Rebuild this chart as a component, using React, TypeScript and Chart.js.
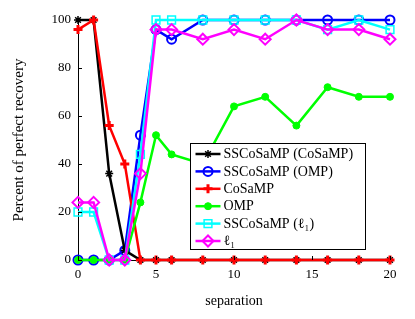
import React, { useEffect, useRef } from "react";
import { Chart, registerables } from "chart.js";
import { drawPoint } from "chart.js/helpers";

Chart.register(...registerables);

const separation = [0, 1, 2, 3, 4, 5, 6, 8, 10, 12, 14, 16, 18, 20];
const ssCosampCosamp = [100, 100, 36, 4, 0, 0, 0, 0, 0, 0, 0, 0, 0, 0];
const ssCosampOmp = [0, 0, 0, 4, 52, 96, 92, 100, 100, 100, 100, 100, 100, 100];
const cosamp = [96, 100, 56, 40, 0, 0, 0, 0, 0, 0, 0, 0, 0, 0];
const omp = [0, 0, 0, 0, 24, 52, 44, 40, 64, 68, 56, 72, 68, 68];
const ssCosampL1 = [20, 20, 0, 0, 44, 100, 100, 100, 100, 100, 100, 96, 100, 96];
const l1 = [24, 24, 0, 0, 36, 96, 96, 92, 96, 92, 100, 96, 96, 92];

const seriesLabels = [
  "SSCoSaMP (CoSaMP)",
  "SSCoSaMP (OMP)",
  "CoSaMP",
  "OMP",
  "SSCoSaMP (\u2113\u2081)",
  "\u2113\u2081",
];

const FONT = "'Liberation Serif', 'DejaVu Serif', serif";

type Style = {
  color: string;
  pointStyle: string;
  radius: number;
  pointBorder: number;
  filled: boolean;
  order: number;
};

const styles: Style[] = [
  { color: "#000000", pointStyle: "star", radius: 4, pointBorder: 1.5, filled: false, order: 4 },
  { color: "#0000ff", pointStyle: "circle", radius: 4.5, pointBorder: 2, filled: false, order: 5 },
  { color: "#ff0000", pointStyle: "cross", radius: 4.5, pointBorder: 3, filled: false, order: 3 },
  { color: "#00ff00", pointStyle: "circle", radius: 3.5, pointBorder: 1, filled: true, order: 2 },
  { color: "#00ffff", pointStyle: "rect", radius: 5.5, pointBorder: 1.5, filled: false, order: 1 },
  { color: "#ff00ff", pointStyle: "rectRot", radius: 5.5, pointBorder: 2, filled: false, order: 0 },
];

const seriesData = [ssCosampCosamp, ssCosampOmp, cosamp, omp, ssCosampL1, l1];

const inwardTicks = {
  id: "inwardTicks",
  afterDatasetsDraw(chart: any) {
    const ctx = chart.ctx;
    const { left, bottom } = chart.chartArea;
    const xs = chart.scales.x;
    const ys = chart.scales.y;
    ctx.save();
    ctx.strokeStyle = "#000";
    ctx.lineWidth = 1;
    ctx.beginPath();
    xs.ticks.forEach((t: any) => {
      const px = Math.round(xs.getPixelForValue(t.value)) + 0.5;
      ctx.moveTo(px, bottom);
      ctx.lineTo(px, bottom - 4);
    });
    ys.ticks.forEach((t: any) => {
      const py = Math.round(ys.getPixelForValue(t.value)) + 0.5;
      ctx.moveTo(left, py);
      ctx.lineTo(left + 4, py);
    });
    ctx.stroke();
    ctx.restore();
  },
};

const boxLegend = {
  id: "boxLegend",
  afterDraw(chart: any) {
    const ctx = chart.ctx;
    const { left, top } = chart.chartArea;
    const bx = Math.round(left + 112) + 0.5;
    const by = Math.round(top + 123) + 0.5;
    const bw = 175;
    const bh = 106;
    ctx.save();
    ctx.fillStyle = "#ffffff";
    ctx.fillRect(bx, by, bw, bh);
    ctx.strokeStyle = "#000000";
    ctx.lineWidth = 1;
    ctx.strokeRect(bx, by, bw, bh);
    ctx.font = `14px ${FONT}`;
    ctx.textBaseline = "middle";
    ctx.textAlign = "left";
    seriesLabels.forEach((label, i) => {
      const st = styles[i];
      const cy = by + 10.5 + i * 17.4;
      ctx.strokeStyle = st.color;
      ctx.lineWidth = 2.5;
      ctx.beginPath();
      ctx.moveTo(bx + 5, cy);
      ctx.lineTo(bx + 30, cy);
      ctx.stroke();
      ctx.fillStyle = st.filled ? st.color : "rgba(0,0,0,0)";
      ctx.strokeStyle = st.color;
      ctx.lineWidth = st.pointBorder;
      drawPoint(ctx, { pointStyle: st.pointStyle as any, radius: st.radius, rotation: 0, borderWidth: st.pointBorder }, bx + 17.5, cy);
      ctx.fillStyle = "#000000";
      ctx.fillText(label, bx + 33, cy + 0.5);
    });
    ctx.restore();
  },
};

export default function App() {
  const ref = useRef<HTMLCanvasElement | null>(null);

  useEffect(() => {
    if (!ref.current) return;
    const datasets = seriesData.map((d, i) => {
      const st = styles[i];
      return {
        label: seriesLabels[i],
        data: separation.map((x, j) => ({ x, y: d[j] })),
        borderColor: st.color,
        backgroundColor: st.filled ? st.color : "rgba(0,0,0,0)",
        borderWidth: 2.5,
        pointStyle: st.pointStyle,
        pointRadius: st.radius,
        pointBorderWidth: st.pointBorder,
        pointBorderColor: st.color,
        pointBackgroundColor: st.filled ? st.color : "rgba(0,0,0,0)",
        tension: 0,
        clip: false,
        order: st.order,
      };
    });

    const chart = new Chart(ref.current, {
      type: "line",
      data: { datasets } as any,
      plugins: [inwardTicks, boxLegend],
      options: {
        responsive: false,
        animation: false,
        layout: { padding: { left: 0, top: 20, right: 25, bottom: 0 } },
        plugins: {
          legend: { display: false },
          tooltip: { enabled: false },
        },
        scales: {
          x: {
            type: "linear",
            min: 0,
            max: 20,
            ticks: {
              stepSize: 5,
              color: "#000",
              font: { family: FONT, size: 13 },
              padding: 7,
              maxRotation: 0,
            },
            grid: { display: true, drawOnChartArea: false, drawTicks: false },
            border: { display: true, color: "#000", width: 1 },
            title: {
              display: true,
              text: "separation",
              color: "#000",
              font: { family: FONT, size: 14 },
              padding: { top: 9, bottom: 9 },
            },
            afterFit: (s: any) => {
              s.height = 59;
            },
          },
          y: {
            type: "linear",
            min: 0,
            max: 100,
            ticks: {
              stepSize: 20,
              color: "#000",
              font: { family: FONT, size: 13 },
              padding: 7,
            },
            grid: { display: true, drawOnChartArea: false, drawTicks: false },
            border: { display: true, color: "#000", width: 1 },
            title: {
              display: true,
              text: "Percent of perfect recovery",
              color: "#000",
              font: { family: FONT, size: 15 },
              padding: { top: 10, bottom: 10 },
            },
            afterFit: (s: any) => {
              s.width = 78;
            },
          },
        },
      } as any,
    });
    return () => chart.destroy();
  }, []);

  return (
    <div style={{ position: "absolute", left: 0, top: 0, width: 415, height: 319, background: "#fff" }}>
      <canvas ref={ref} width={415} height={319} style={{ display: "block" }} />
    </div>
  );
}
